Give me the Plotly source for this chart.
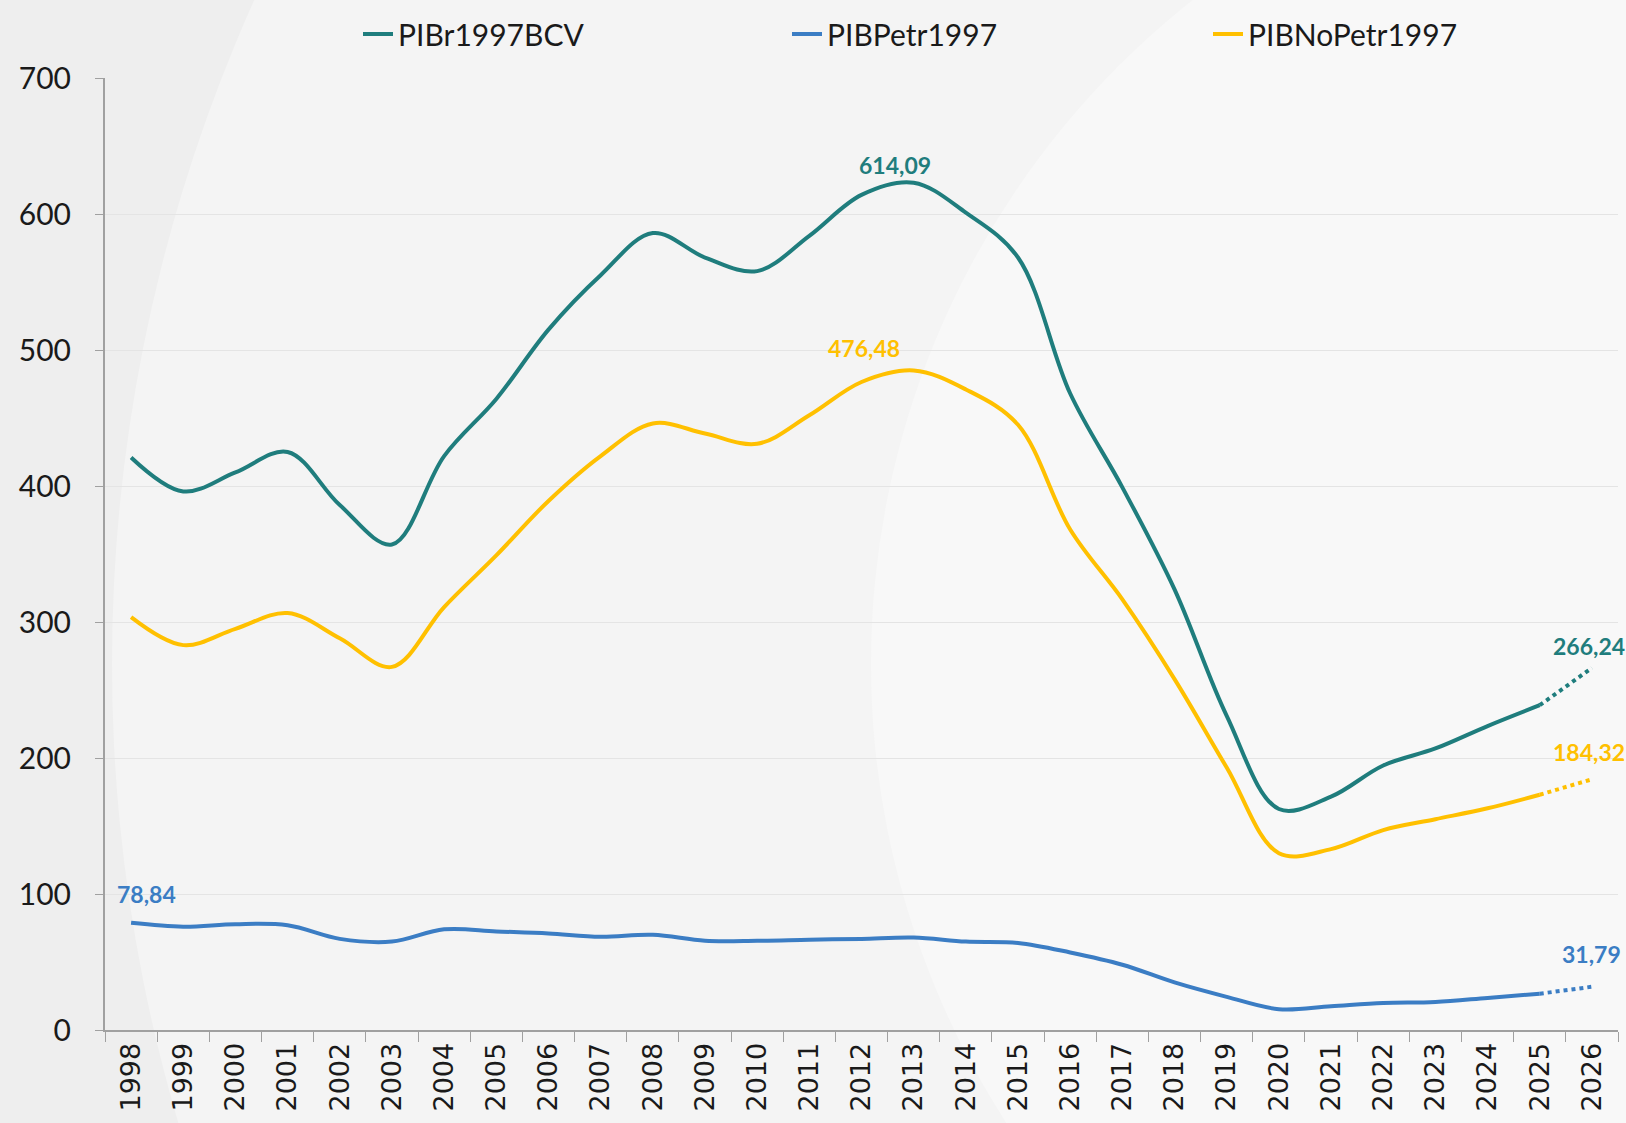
import plotly.graph_objects as go

years = [str(y) for y in range(1998, 2027)]

pib_total = [421, 396, 410, 425, 386, 357, 422, 464, 515, 555, 586, 568, 558, 584,
             614.09, 623, 601, 568, 468, 399, 324, 231, 162.5, 171.6, 194.5, 207, 223.5, 238.8,
             266.24]
pib_petr = [78.84, 76, 77.8, 77, 67, 65, 74, 72.5, 71, 68.6, 70, 65.6, 65.6, 66.4,
            67, 68, 65, 64, 57, 48, 35, 24.4, 15.3, 17.5, 19.8, 20.6, 23.6, 26.7,
            31.79]
pib_nopetr = [303.6, 283, 295, 306.6, 288, 267, 311, 349, 389, 422, 446, 438.6, 431, 452,
              476.48, 485, 471, 445, 368, 316.6, 258, 193, 130, 133, 147, 155, 163, 173,
              184.32]

names = ["PIBr1997BCV", "PIBPetr1997", "PIBNoPetr1997"]
colors = ["#1f7d7d", "#3b7dc4", "#ffc000"]
series = [pib_total, pib_petr, pib_nopetr]
legend_ids = ["legend", "legend2", "legend3"]

# labelled points: (series index, year index, xshift, yshift)
labels = [(0, 14, 33, 30), (2, 14, 2, 34), (1, 0, 15, 29),
          (0, 28, -3, 22), (2, 28, -3, 27), (1, 28, 0, 33)]

fig = go.Figure()
for name, col, vals, lg in zip(names, colors, series, legend_ids):
    fig.add_trace(go.Scatter(x=years[:-1], y=vals[:-1], name=name, mode="lines", legend=lg,
                             line=dict(color=col, width=4, shape="spline", smoothing=1.0)))
for name, col, vals in zip(names, colors, series):
    fig.add_trace(go.Scatter(x=years[-2:], y=vals[-2:], mode="lines", showlegend=False,
                             line=dict(color=col, width=4, dash="dot")))

for si, yi, dx, dy in labels:
    v = series[si][yi]
    fig.add_annotation(x=yi, y=v, xref="x", yref="y", text=f"{v:.2f}".replace(".", ","),
                       showarrow=False, xshift=dx, yshift=dy,
                       font=dict(family="Lato", size=23, color=colors[si], weight="bold"))

# background decoration
W, H = 1626, 1123
L, R, T, B = 105, 1618, 78, 1030
def px(x): return (x - L) / (R - L)
def py(y): return (B - y) / (B - T)
fig.add_shape(type="circle", xref="paper", yref="paper", layer="below",
              x0=px(112), x1=px(3354), y0=py(2285), y1=py(-957),
              fillcolor="#f4f4f4", line=dict(width=0))
fig.add_shape(type="circle", xref="paper", yref="paper", layer="below",
              x0=px(871), x1=px(2563), y0=py(1510), y1=py(-182),
              fillcolor="#f8f8f8", line=dict(width=0))

leg_common = dict(orientation="h", xanchor="left", yanchor="middle", y=py(34),
                  bgcolor="rgba(0,0,0,0)", font=dict(family="Lato", size=30, color="#1a1a1a"))
fig.update_layout(
    width=W, height=H,
    margin=dict(l=L, r=W - R, t=T, b=H - B),
    paper_bgcolor="#eeeeee", plot_bgcolor="rgba(0,0,0,0)",
    font=dict(family="Lato", size=30, color="#1a1a1a"),
    legend=dict(x=px(358), **leg_common),
    legend2=dict(x=px(787), **leg_common),
    legend3=dict(x=px(1208), **leg_common),
    showlegend=True,
)
fig.update_xaxes(type="category", categoryorder="array", categoryarray=years,
                 range=[-0.5, len(years) - 0.5], tickangle=-90, tickson="boundaries",
                 ticks="outside", ticklen=10, tickcolor="#a0a0a0", showline=True,
                 linecolor="#a0a0a0", linewidth=2, showgrid=False,
                 tickfont=dict(family="DejaVu Sans", size=27, color="#1a1a1a"))
fig.update_yaxes(range=[0, 700], dtick=100, ticks="outside", ticklen=8, tickcolor="#a0a0a0",
                 showline=True, linecolor="#a0a0a0", linewidth=2, gridcolor="#e4e4e4",
                 gridwidth=1, zeroline=False, ticklabelstandoff=18,
                 tickfont=dict(family="Lato", size=30, color="#1a1a1a"))

fig.write_html("out.html", config={"displayModeBar": False},
               post_script="document.body.style.margin='0px';")
